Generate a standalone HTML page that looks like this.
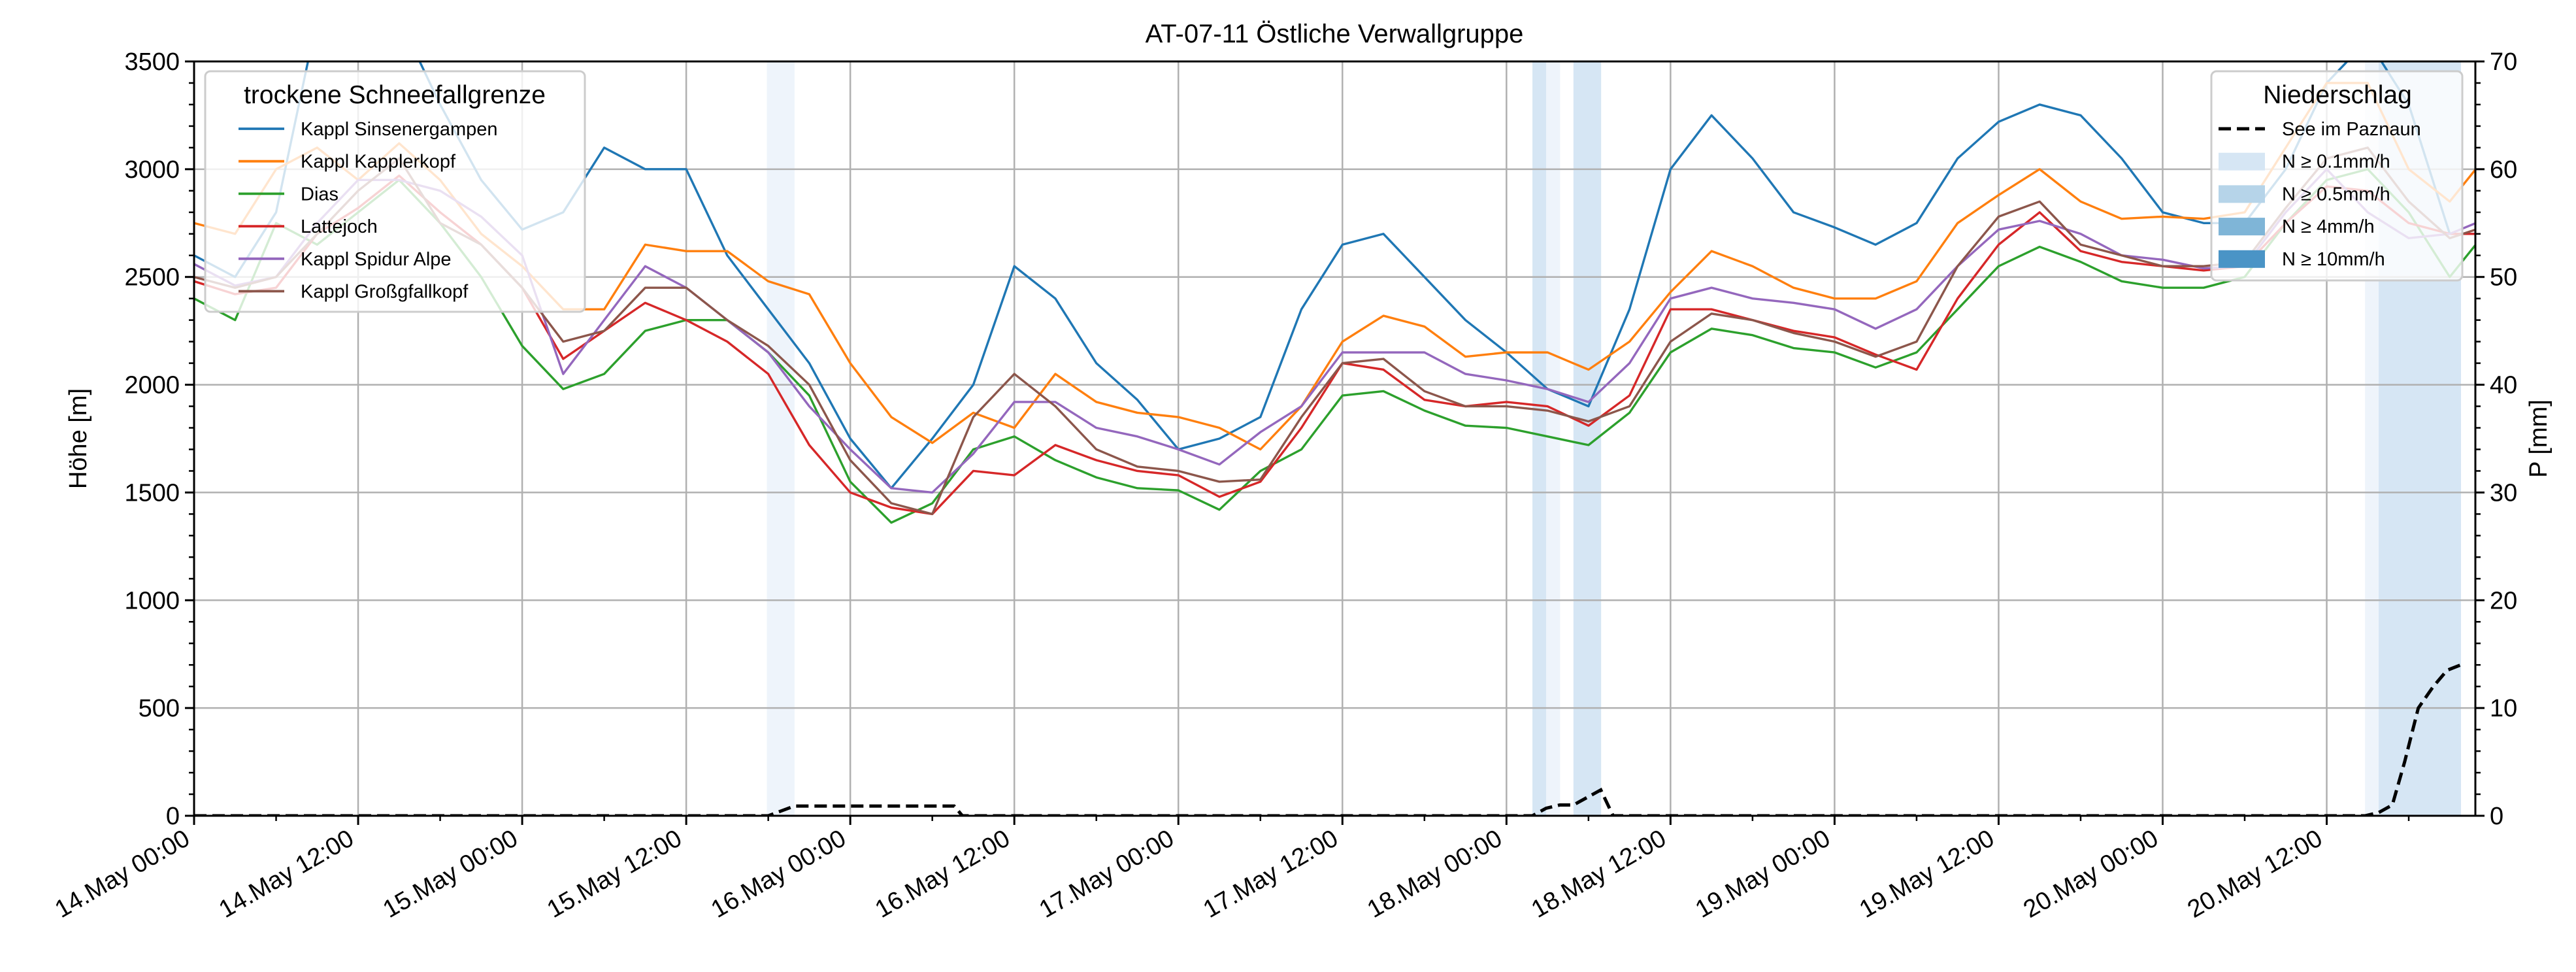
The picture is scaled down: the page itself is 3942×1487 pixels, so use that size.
<!DOCTYPE html>
<html><head><meta charset="utf-8"><style>
html,body{margin:0;padding:0;background:#fff;}
svg{display:block;font-family:"Liberation Sans","DejaVu Sans",sans-serif;}
</style></head><body>
<svg id="chart" width="3942" height="1487" viewBox="0 0 3942 1487" xmlns="http://www.w3.org/2000/svg">
<defs><clipPath id="plotclip"><rect x="297" y="94" width="3491" height="1154"/></clipPath></defs>
<text x="2042" y="65" font-size="40" text-anchor="middle">AT-07-11 Östliche Verwallgruppe</text>
<g id="bands" clip-path="url(#plotclip)"></g>
<g id="grid"></g>
<g id="series" clip-path="url(#plotclip)"></g>
<g id="axes"></g>
<g id="legends"></g>
</svg>
<script>
const hours = [...Array(56).keys()].map(i => i * 3).concat([166.9]);
const seriesNames = ["Kappl Sinsenergampen","Kappl Kapplerkopf","Dias","Lattejoch","Kappl Spidur Alpe","Kappl Großgfallkopf"];
const sinsenergampen = [2600,2500,2800,3700,3700,3700,3300,2950,2720,2800,3100,3000,3000,2600,2350,2100,1750,1520,1750,2000,2550,2400,2100,1930,1700,1750,1850,2350,2650,2700,2500,2300,2150,1980,1900,2350,3000,3250,3050,2800,2730,2650,2750,3050,3220,3300,3250,3050,2800,2750,2750,3000,3400,3600,3300,2700,2700];
const kapplerkopf = [2750,2700,3000,3100,2950,3120,2950,2700,2550,2350,2350,2650,2620,2620,2480,2420,2100,1850,1730,1870,1800,2050,1920,1870,1850,1800,1700,1900,2200,2320,2270,2130,2150,2150,2070,2200,2430,2620,2550,2450,2400,2400,2480,2750,2880,3000,2850,2770,2780,2770,2800,3100,3400,3400,3000,2850,3000];
const dias = [2400,2300,2750,2650,2800,2950,2750,2500,2180,1980,2050,2250,2300,2300,2150,1950,1550,1360,1450,1700,1760,1650,1570,1520,1510,1420,1600,1700,1950,1970,1880,1810,1800,1760,1720,1870,2150,2260,2230,2170,2150,2080,2150,2350,2550,2640,2570,2480,2450,2450,2500,2750,2950,3000,2800,2500,2650];
const lattejoch = [2480,2420,2450,2700,2820,2970,2800,2650,2450,2120,2250,2380,2300,2200,2050,1720,1500,1430,1400,1600,1580,1720,1650,1600,1580,1480,1550,1800,2100,2070,1930,1900,1920,1900,1810,1950,2350,2350,2300,2250,2220,2140,2070,2400,2650,2800,2620,2570,2550,2530,2550,2750,2920,2900,2750,2700,2700];
const spidurAlpe = [2560,2460,2500,2750,2950,2950,2900,2780,2600,2050,2300,2550,2450,2300,2150,1900,1700,1520,1500,1680,1920,1920,1800,1760,1700,1630,1780,1900,2150,2150,2150,2050,2020,1980,1920,2100,2400,2450,2400,2380,2350,2260,2350,2550,2720,2760,2700,2600,2580,2540,2550,2800,3000,2800,2680,2700,2750];
const grossgfallkopf = [2500,2450,2500,2700,2900,3050,2750,2650,2450,2200,2250,2450,2450,2300,2180,2000,1650,1450,1400,1850,2050,1900,1700,1620,1600,1550,1560,1850,2100,2120,1970,1900,1900,1880,1830,1900,2200,2330,2300,2240,2200,2130,2200,2550,2780,2850,2650,2600,2550,2550,2570,2820,3050,3100,2850,2680,2720];
const precipHours = [0,42,43.9,55.6,56.2,97.9,98.9,99.9,100.9,102.9,103.8,158.8,159.8,160.8,161.7,162.7,163.8,164.8,165.8];
const precipValues = [0,0,0.9,0.9,0,0,0.7,1,1,2.4,0,0,0.3,1,5,10,12,13.5,14];
const bandHours = [41.9,42.9,97.9,98.9,100.9,101.9,158.8,159.8,160.8,161.8,162.8,163.8,164.8];
const bandLevels = ["0.1","0.1","0.5","0.1","0.5","0.5","0.1","0.5","0.5","0.5","0.5","0.5","0.5"];
const xTickLabels = ["14.May 00:00","14.May 12:00","15.May 00:00","15.May 12:00","16.May 00:00","16.May 12:00","17.May 00:00","17.May 12:00","18.May 00:00","18.May 12:00","19.May 00:00","19.May 12:00","20.May 00:00","20.May 12:00"];
const yTicksLeft = [0,500,1000,1500,2000,2500,3000,3500];
const yTicksRight = [0,10,20,30,40,50,60,70];

const NS = "http://www.w3.org/2000/svg";
const L = 297, R = 3788, T = 94, B = 1248;
const x = h => L + h * 20.92;
const yL = v => B - v / 3500 * (B - T);
const yR = v => B - v / 70 * (B - T);
function mk(tag, attrs, parent) { const e = document.createElementNS(NS, tag); for (const k in attrs) e.setAttribute(k, attrs[k]); parent.appendChild(e); return e; }
const gBands = document.getElementById('bands'), gGrid = document.getElementById('grid'), gSer = document.getElementById('series'), gAx = document.getElementById('axes'), gLeg = document.getElementById('legends');
const bandColor = {"0.1":"#eef4fb","0.5":"#d6e6f4"};
bandHours.forEach((h, i) => {
  const r = mk('rect', {x: x(h), y: T, width: 20.92 + 0.5, height: B - T, fill: bandColor[bandLevels[i]]}, gBands);
  
  
});
for (let i = 0; i < 14; i++) { const gx = x(i * 12); const l = mk('line', {x1: gx, x2: gx, y1: T, y2: B, stroke: '#b0b0b0', 'stroke-width': 2.5}, gGrid);   }
yTicksLeft.forEach(v => { const l = mk('line', {x1: L, x2: R, y1: yL(v), y2: yL(v), stroke: '#b0b0b0', 'stroke-width': 2.5}, gGrid);   });
const colors = ['#1f77b4','#ff7f0e','#2ca02c','#d62728','#9467bd','#8c564b'];
const allSeries = [sinsenergampen, kapplerkopf, dias, lattejoch, spidurAlpe, grossgfallkopf];
const sNames = ['line-sinsenergampen','line-kapplerkopf','line-dias','line-lattejoch','line-spidur-alpe','line-grossgfallkopf'];
allSeries.forEach((s, i) => {
  const p = mk('polyline', {points: s.map((v, j) => x(hours[j]) + ',' + yL(v)).join(' '), fill: 'none', stroke: colors[i], 'stroke-width': 3.4, 'stroke-linejoin': 'round'}, gSer);
  
  
});
const pl = mk('polyline', {points: precipHours.map((h, j) => x(h) + ',' + yR(precipValues[j])).join(' '), fill: 'none', stroke: '#000', 'stroke-width': 5, 'stroke-dasharray': '19 9'}, gSer);


const fr = mk('rect', {x: L, y: T, width: R - L, height: B - T, fill: 'none', stroke: '#000', 'stroke-width': 3}, gAx);
 
for (let h = 0; h <= 166; h += 6) {
  const major = h % 12 === 0;
  mk('line', {x1: x(h), x2: x(h), y1: B, y2: B + (major ? 14 : 8), stroke: '#000', 'stroke-width': major ? 3 : 2.5}, gAx);
}
xTickLabels.forEach((t, i) => {
  const tx = x(i * 12) - 4, ty = B + 42;
  const e = mk('text', {x: tx, y: ty, 'font-size': 38, 'text-anchor': 'end', transform: `rotate(-30 ${tx} ${ty})`}, gAx);
  e.textContent = t;
  
  
});
for (let v = 0; v <= 3500; v += 100) { const maj = v % 500 === 0; mk('line', {x1: L - (maj ? 14 : 8), x2: L, y1: yL(v), y2: yL(v), stroke: '#000', 'stroke-width': maj ? 3 : 2.5}, gAx); }
yTicksLeft.forEach(v => { const e = mk('text', {x: L - 22, y: yL(v) + 13, 'font-size': 38, 'text-anchor': 'end'}, gAx); e.textContent = v;   });
for (let v = 0; v <= 70; v += 2) { const maj = v % 10 === 0; mk('line', {x1: R, x2: R + (maj ? 14 : 8), y1: yR(v), y2: yR(v), stroke: '#000', 'stroke-width': maj ? 3 : 2.5}, gAx); }
yTicksRight.forEach(v => { const e = mk('text', {x: R + 22, y: yR(v) + 13, 'font-size': 38, 'text-anchor': 'start'}, gAx); e.textContent = v;   });
const yl = mk('text', {x: 132, y: (T + B) / 2, 'font-size': 38, 'text-anchor': 'middle', transform: `rotate(-90 132 ${(T + B) / 2})`}, gAx);
yl.textContent = 'Höhe [m]';  
const yr = mk('text', {x: 3897, y: (T + B) / 2, 'font-size': 38, 'text-anchor': 'middle', transform: `rotate(-90 3897 ${(T + B) / 2})`}, gAx);
yr.textContent = 'P [mm]';  
const lg1 = mk('g', {}, gLeg);
 
mk('rect', {x: 314, y: 109, width: 581, height: 368, rx: 8, fill: '#fff', 'fill-opacity': 0.8, stroke: '#cccccc', 'stroke-width': 3}, lg1);
const t1 = mk('text', {x: 604, y: 158, 'font-size': 39, 'text-anchor': 'middle'}, lg1); t1.textContent = 'trockene Schneefallgrenze';
seriesNames.forEach((n, i) => {
  const cy = 197 + i * 49.7;
  const ln = mk('line', {x1: 365, x2: 435, y1: cy, y2: cy, stroke: colors[i], 'stroke-width': 3.8}, lg1);
   
  const tt = mk('text', {x: 460, y: cy + 10, 'font-size': 29}, lg1); tt.textContent = n;
   
});
const lg2 = mk('g', {}, gLeg);
 
mk('rect', {x: 3384, y: 109, width: 384, height: 320, rx: 8, fill: '#fff', 'fill-opacity': 0.8, stroke: '#cccccc', 'stroke-width': 3}, lg2);
const t2 = mk('text', {x: 3577, y: 158, 'font-size': 39, 'text-anchor': 'middle'}, lg2); t2.textContent = 'Niederschlag';
const precipLegend = ['See im Paznaun','N ≥ 0.1mm/h','N ≥ 0.5mm/h','N ≥ 4mm/h','N ≥ 10mm/h'];
const swatch = [null,'#d6e6f4','#b6d4e9','#7fb5d7','#4a94c6'];
precipLegend.forEach((n, i) => {
  const cy = 197 + i * 49.7;
  if (i === 0) { const d = mk('line', {x1: 3395, x2: 3466, y1: cy, y2: cy, stroke: '#000', 'stroke-width': 5, 'stroke-dasharray': '19 9'}, lg2);   }
  else { const r = mk('rect', {x: 3395, y: cy - 13, width: 71, height: 27, fill: swatch[i]}, lg2);   }
  const tt = mk('text', {x: 3492, y: cy + 10, 'font-size': 29}, lg2); tt.textContent = n;
   
});
</script>
</body></html>
